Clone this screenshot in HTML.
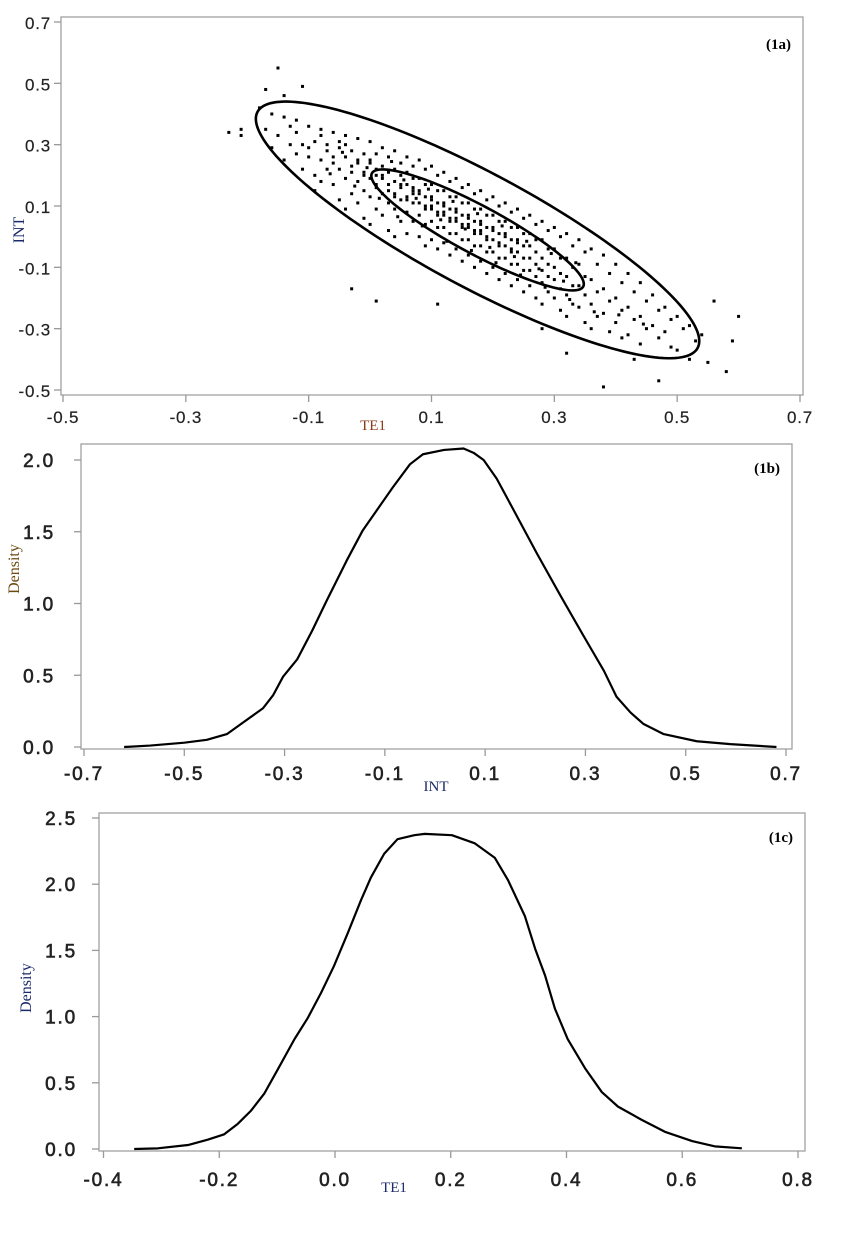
<!DOCTYPE html>
<html><head><meta charset="utf-8"><style>
html,body{margin:0;padding:0;background:#fff;}
svg{display:block;}
.tk{font-family:"Liberation Sans",sans-serif;fill:#222;}
.lab{font-family:"Liberation Serif",serif;}
</style></head>
<body>
<svg id="fig" width="848" height="1239" viewBox="0 0 848 1239" xmlns="http://www.w3.org/2000/svg">
<rect width="848" height="1239" fill="#fff"/>
<g id="pa"></g>
<g id="pb"></g>
<g id="pc"></g>
</svg>
<script>
// ---------- Panel 1a data ----------
const aXTicks = [-0.5, -0.3, -0.1, 0.1, 0.3, 0.5, 0.7];
const aYTicks = [0.7, 0.5, 0.3, 0.1, -0.1, -0.3, -0.5];
const ellipseCenter = [0.175, 0.022];
const ellipseMajor = [0.3583, -0.385];
const ellipseMinor = [0.044, 0.164];
const ellipseScales = [[1, 1], [0.48, 0.42]];
const scatterPoints = [
[-0.18,0.42],[-0.17,0.35],
[-0.16,0.40],[-0.15,0.33],[-0.16,0.29],
[-0.14,0.39],[-0.13,0.30],[-0.14,0.25],[-0.13,0.36],
[-0.12,0.38],[-0.11,0.30],[-0.12,0.27],[-0.11,0.22],[-0.12,0.34],
[-0.10,0.36],[-0.09,0.31],[-0.10,0.26],[-0.09,0.20],[-0.10,0.29],[-0.09,0.15],
[-0.08,0.35],[-0.07,0.30],[-0.08,0.25],[-0.07,0.22],[-0.08,0.18],[-0.07,0.28],[-0.08,0.33],
[-0.06,0.34],[-0.05,0.29],[-0.06,0.26],[-0.05,0.22],[-0.06,0.17],[-0.05,0.12],[-0.06,0.24],[-0.05,0.31],
[-0.04,0.33],[-0.03,0.28],[-0.04,0.26],[-0.03,0.23],[-0.04,0.19],[-0.03,0.14],[-0.04,0.09],[-0.03,0.21],[-0.04,0.30],
[-0.02,0.32],[-0.01,0.27],[-0.02,0.24],[-0.01,0.21],[-0.02,0.18],[-0.01,0.15],[-0.02,0.11],[-0.01,0.06],[-0.02,0.25],[-0.01,0.20],
[0.00,0.31],[0.01,0.27],[0.00,0.24],[0.01,0.22],[0.00,0.19],[0.01,0.16],[0.00,0.13],[0.01,0.09],[0.00,0.04],[0.01,0.20],[0.00,0.25],[0.01,0.17],
[0.02,0.29],[0.03,0.26],[0.02,0.23],[0.03,0.21],[0.02,0.19],[0.03,0.17],[0.02,0.14],[0.03,0.11],[0.02,0.07],[0.03,0.02],[0.02,0.20],[0.03,0.15],
[0.04,0.28],[0.05,0.24],[0.04,0.22],[0.05,0.20],[0.04,0.18],[0.05,0.16],[0.04,0.14],[0.05,0.12],[0.04,0.09],[0.05,0.05],[0.04,0.00],[0.05,0.17],[0.04,0.13],
[0.06,0.26],[0.07,0.23],[0.06,0.21],[0.07,0.19],[0.06,0.17],[0.07,0.15],[0.06,0.13],[0.07,0.11],[0.06,0.08],[0.07,0.05],[0.06,0.01],[0.07,0.16],[0.06,0.12],[0.07,0.14],
[0.08,0.25],[0.09,0.22],[0.08,0.19],[0.09,0.17],[0.08,0.15],[0.09,0.13],[0.08,0.11],[0.09,0.09],[0.08,0.07],[0.09,0.04],[0.08,0.00],[0.09,-0.03],[0.08,0.14],[0.09,0.10],
[0.10,0.23],[0.11,0.20],[0.10,0.17],[0.11,0.15],[0.10,0.13],[0.11,0.11],[0.10,0.09],[0.11,0.07],[0.10,0.05],[0.11,0.03],[0.10,-0.01],[0.11,-0.04],[0.10,0.12],[0.11,0.08],[0.10,0.10],
[0.12,0.21],[0.13,0.18],[0.12,0.15],[0.13,0.13],[0.12,0.11],[0.13,0.09],[0.12,0.07],[0.13,0.05],[0.12,0.03],[0.13,0.01],[0.12,-0.02],[0.13,-0.06],[0.12,0.10],[0.13,0.06],[0.12,0.08],
[0.14,0.19],[0.15,0.16],[0.14,0.13],[0.15,0.11],[0.14,0.09],[0.15,0.07],[0.14,0.05],[0.15,0.03],[0.14,0.01],[0.15,-0.01],[0.14,-0.04],[0.15,-0.08],[0.14,0.08],[0.15,0.04],[0.14,0.06],
[0.16,0.17],[0.17,0.14],[0.16,0.11],[0.17,0.09],[0.16,0.07],[0.17,0.05],[0.16,0.03],[0.17,0.01],[0.16,-0.01],[0.17,-0.03],[0.16,-0.06],[0.17,-0.10],[0.16,0.06],[0.17,0.02],[0.16,0.04],
[0.18,0.15],[0.19,0.12],[0.18,0.09],[0.19,0.07],[0.18,0.05],[0.19,0.03],[0.18,0.01],[0.19,-0.01],[0.18,-0.03],[0.19,-0.05],[0.18,-0.08],[0.19,-0.12],[0.18,0.04],[0.19,0.00],[0.18,0.02],
[0.20,0.13],[0.21,0.10],[0.20,0.07],[0.21,0.05],[0.20,0.03],[0.21,0.01],[0.20,-0.01],[0.21,-0.03],[0.20,-0.05],[0.21,-0.07],[0.20,-0.10],[0.21,-0.14],[0.20,0.02],[0.21,-0.02],
[0.22,0.11],[0.23,0.08],[0.22,0.05],[0.23,0.03],[0.22,0.01],[0.23,-0.01],[0.22,-0.03],[0.23,-0.05],[0.22,-0.07],[0.23,-0.09],[0.22,-0.12],[0.23,-0.16],[0.22,0.00],[0.23,-0.04],
[0.24,0.09],[0.25,0.06],[0.24,0.03],[0.25,0.01],[0.24,-0.01],[0.25,-0.03],[0.24,-0.05],[0.25,-0.07],[0.24,-0.09],[0.25,-0.11],[0.24,-0.14],[0.25,-0.18],[0.24,-0.02],
[0.26,0.07],[0.27,0.04],[0.26,0.01],[0.27,-0.01],[0.26,-0.03],[0.27,-0.05],[0.26,-0.07],[0.27,-0.09],[0.26,-0.11],[0.27,-0.13],[0.26,-0.16],[0.27,-0.20],
[0.28,0.05],[0.29,0.02],[0.28,-0.01],[0.29,-0.04],[0.28,-0.07],[0.29,-0.09],[0.28,-0.11],[0.29,-0.13],[0.28,-0.15],[0.29,-0.18],[0.28,-0.22],
[0.30,0.03],[0.31,0.00],[0.30,-0.04],[0.31,-0.07],[0.30,-0.10],[0.31,-0.12],[0.30,-0.14],[0.31,-0.17],[0.30,-0.20],[0.31,-0.24],
[0.32,0.01],[0.33,-0.03],[0.32,-0.07],[0.33,-0.10],[0.32,-0.13],[0.33,-0.16],[0.32,-0.19],[0.33,-0.22],[0.32,-0.26],
[0.34,-0.01],[0.35,-0.05],[0.34,-0.09],[0.35,-0.13],[0.34,-0.16],[0.35,-0.19],[0.34,-0.23],[0.35,-0.28],
[0.36,-0.04],[0.37,-0.09],[0.36,-0.14],[0.37,-0.18],[0.36,-0.22],[0.37,-0.26],[0.36,-0.30],
[0.38,-0.06],[0.39,-0.12],[0.38,-0.17],[0.39,-0.21],[0.38,-0.25],[0.39,-0.31],
[0.40,-0.09],[0.41,-0.15],[0.40,-0.20],[0.41,-0.24],[0.40,-0.28],[0.41,-0.33],
[0.42,-0.12],[0.43,-0.18],[0.42,-0.23],[0.43,-0.27],[0.42,-0.32],
[0.44,-0.15],[0.45,-0.21],[0.44,-0.26],[0.45,-0.30],[0.44,-0.35],
[0.46,-0.19],[0.47,-0.24],[0.46,-0.29],[0.47,-0.33],
[0.48,-0.23],[0.49,-0.27],[0.48,-0.31],[0.49,-0.36],
[0.50,-0.26],[0.51,-0.30],[0.50,-0.37],
[0.52,-0.29],[0.53,-0.34],[0.54,-0.32],
[-0.23,0.34],[-0.21,0.33],[-0.21,0.35],[-0.15,0.55],[-0.17,0.48],[-0.11,0.49],[-0.14,0.46],
[0.38,-0.49],[0.47,-0.47],[0.58,-0.44],[0.55,-0.41],[0.56,-0.21],[0.60,-0.26],[0.59,-0.34],
[0.32,-0.38],[-0.03,-0.17],[0.01,-0.21],[0.11,-0.22],[0.28,-0.30],[0.43,-0.40],[0.52,-0.40],
[0.035,0.245],[0.055,0.185],[0.075,0.125],[0.095,0.155],[0.115,0.055],[0.135,0.115],[0.155,0.025],[0.175,0.075],
[0.195,-0.035],[0.215,0.035],[0.235,-0.065],[0.255,-0.015],[0.275,-0.105],[0.295,-0.055],[0.315,-0.145],[0.335,-0.085],
[-0.065,0.205],[-0.045,0.275],[-0.025,0.165],[-0.005,0.225],[0.015,0.125],[0.045,0.065],[0.085,0.035],[0.125,-0.015],
[0.165,-0.045],[0.205,-0.085],[0.245,-0.125],[0.285,-0.165],[0.325,-0.205],[0.365,-0.245],[0.405,-0.255],[0.445,-0.285]
];

// ---------- Panel 1b data ----------
const bXTicks = [-0.7, -0.5, -0.3, -0.1, 0.1, 0.3, 0.5, 0.7];
const bYTicks = [0.0, 0.5, 1.0, 1.5, 2.0];
const bInt = [-0.62,-0.568,-0.50,-0.455,-0.415,-0.389,-0.343,-0.323,-0.303,-0.275,-0.245,-0.216,-0.176,-0.144,-0.084,-0.05,-0.024,0.018,0.057,0.077,0.097,0.123,0.157,0.203,0.251,0.297,0.337,0.362,0.390,0.416,0.456,0.522,0.589,0.681];
const bDensity = [0.00,0.01,0.03,0.05,0.09,0.155,0.27,0.36,0.49,0.61,0.81,1.02,1.30,1.51,1.81,1.97,2.04,2.07,2.08,2.05,2.00,1.87,1.65,1.35,1.05,0.77,0.53,0.35,0.24,0.16,0.09,0.04,0.02,0.00];

// ---------- Panel 1c data ----------
const cXTicks = [-0.4, -0.2, 0.0, 0.2, 0.4, 0.6, 0.8];
const cYTicks = [0.0, 0.5, 1.0, 1.5, 2.0, 2.5];
const cTe1 = [-0.347,-0.306,-0.254,-0.22,-0.192,-0.168,-0.145,-0.122,-0.099,-0.07,-0.047,-0.024,-0.002,0.022,0.045,0.062,0.085,0.108,0.137,0.155,0.202,0.241,0.276,0.299,0.328,0.346,0.363,0.380,0.402,0.432,0.461,0.489,0.530,0.570,0.617,0.656,0.703];
const cDensity = [0.00,0.005,0.03,0.07,0.11,0.19,0.29,0.42,0.60,0.83,0.99,1.18,1.38,1.63,1.88,2.05,2.23,2.34,2.37,2.38,2.37,2.31,2.20,2.03,1.76,1.51,1.31,1.06,0.83,0.61,0.43,0.32,0.22,0.13,0.06,0.02,0.005];

const NS = "http://www.w3.org/2000/svg";
function mk(parent, tag, attrs, text) {
  const e = document.createElementNS(NS, tag);
  for (const k in attrs) e.setAttribute(k, attrs[k]);
  if (text !== undefined) e.textContent = text;
  parent.appendChild(e);
  return e;
}
function lin(d0, d1, r0, r1) { return v => r0 + (v - d0) * (r1 - r0) / (d1 - d0); }

function frame(g, box, name) {
  const r = mk(g, 'rect', {x: box[0], y: box[1], width: box[2]-box[0], height: box[3]-box[1], fill: 'none', stroke: '#a0a0a0', 'stroke-width': 1.3});
  
  
}
function axes(g, box, xs, ys, xt, yt, fmt, opts) {
  xt.forEach(v => {
    const x = xs(v);
    const t = mk(g, 'line', {x1: x, x2: x, y1: box[3], y2: box[3] + 7, stroke: '#999', 'stroke-width': 1.3});
    
    
    const l = mk(g, 'text', {x: x, y: opts.xLabY, 'text-anchor': 'middle', class: 'tk', 'font-size': opts.fs, 'letter-spacing': opts.ls, stroke: '#222', 'stroke-width': opts.sw}, fmt(v));
    
    
  });
  yt.forEach(v => {
    const y = ys(v);
    const t = mk(g, 'line', {x1: box[0] - 7, x2: box[0], y1: y, y2: y, stroke: '#999', 'stroke-width': 1.3});
    
    
    const l = mk(g, 'text', {x: opts.yLabX, y: y + 7, 'text-anchor': 'end', class: 'tk', 'font-size': opts.fs, 'letter-spacing': opts.ls, stroke: '#222', 'stroke-width': opts.sw}, fmt(v));
    
    
  });
}

// ===== Panel 1a =====
(function(){
  const g = document.getElementById('pa');
  const box = [61, 17, 803, 395];
  const xs = lin(-0.5, 0.7, 63, 800);
  const ys = lin(-0.5, 0.7, 390, 22);
  frame(g, box, 'plot-frame-1a');
  axes(g, box, xs, ys, aXTicks, aYTicks, v => v.toFixed(1), {xLabY: 423, yLabX: 51, fs: 17, ls: 0.8, sw: 0.2});
  scatterPoints.forEach(p => {
    const d = mk(g, 'rect', {x: xs(p[0]) - 1.5, y: ys(p[1]) - 1.5, width: 3, height: 3, fill: '#000'});
    
    
  });
  ellipseScales.forEach((s, i) => {
    let dstr = '';
    for (let k = 0; k <= 180; k++) {
      const t = k / 180 * 2 * Math.PI;
      const vx = ellipseCenter[0] + s[0]*Math.cos(t)*ellipseMajor[0] + s[1]*Math.sin(t)*ellipseMinor[0];
      const vy = ellipseCenter[1] + s[0]*Math.cos(t)*ellipseMajor[1] + s[1]*Math.sin(t)*ellipseMinor[1];
      dstr += (k ? 'L' : 'M') + xs(vx).toFixed(2) + ',' + ys(vy).toFixed(2);
    }
    const e = mk(g, 'path', {d: dstr + 'Z', fill: 'none', stroke: '#000', 'stroke-width': 2.6});
    
    
  });
  const tag = mk(g, 'text', {x: 791, y: 49, 'text-anchor': 'end', class: 'lab', 'font-size': 15, 'font-weight': 'bold', fill: '#000'}, '(1a)');
  
  
  const yl = mk(g, 'text', {x: 0, y: 0, transform: 'translate(24,230) rotate(-90)', 'text-anchor': 'middle', class: 'lab', 'font-size': 16, fill: '#1a2a6a'}, 'INT');
  
  
  const xl = mk(g, 'text', {x: 373, y: 430, 'text-anchor': 'middle', class: 'lab', 'font-size': 15, fill: '#8b3a1a'}, 'TE1');
  
  
})();

function densityPanel(gid, box, xd, xr, yd, yr, xt, yt, xv, yv, fmt, opts, label) {
  const g = document.getElementById(gid);
  const xs = lin(xd[0], xd[1], xr[0], xr[1]);
  const ys = lin(yd[0], yd[1], yr[0], yr[1]);
  frame(g, box, 'plot-frame-' + label);
  axes(g, box, xs, ys, xt, yt, fmt, opts);
  let d = '';
  xv.forEach((v, i) => { d += (i ? 'L' : 'M') + xs(v).toFixed(2) + ',' + ys(yv[i]).toFixed(2); });
  const p = mk(g, 'path', {d: d, fill: 'none', stroke: '#000', 'stroke-width': 2.2, 'stroke-linejoin': 'round'});
  
  
  return g;
}

// ===== Panel 1b =====
(function(){
  const g = densityPanel('pb', [81, 444, 792, 749], [-0.7, 0.7], [84, 786], [0, 2], [747, 460],
    bXTicks, bYTicks, bInt, bDensity, v => v.toFixed(1), {xLabY: 780, yLabX: 55, fs: 19, ls: 1.8, sw: 0.6}, '1b');
  const tag = mk(g, 'text', {x: 780, y: 473, 'text-anchor': 'end', class: 'lab', 'font-size': 15, 'font-weight': 'bold', fill: '#000'}, '(1b)');
  
  
  const yl = mk(g, 'text', {x: 0, y: 0, transform: 'translate(19,569) rotate(-90)', 'text-anchor': 'middle', class: 'lab', 'font-size': 16, fill: '#6b4a10'}, 'Density');
  
  
  const xl = mk(g, 'text', {x: 436, y: 791, 'text-anchor': 'middle', class: 'lab', 'font-size': 15, fill: '#1a2a6a'}, 'INT');
  
  
})();

// ===== Panel 1c =====
(function(){
  const g = densityPanel('pc', [99, 813, 805, 1151], [-0.4, 0.8], [103.5, 798], [0, 2.5], [1149, 818],
    cXTicks, cYTicks, cTe1, cDensity, v => v.toFixed(1), {xLabY: 1186, yLabX: 77, fs: 19, ls: 1.8, sw: 0.6}, '1c');
  const tag = mk(g, 'text', {x: 793, y: 842, 'text-anchor': 'end', class: 'lab', 'font-size': 15, 'font-weight': 'bold', fill: '#000'}, '(1c)');
  
  
  const yl = mk(g, 'text', {x: 0, y: 0, transform: 'translate(31,988) rotate(-90)', 'text-anchor': 'middle', class: 'lab', 'font-size': 16, fill: '#1a2a6a'}, 'Density');
  
  
  const xl = mk(g, 'text', {x: 394, y: 1192, 'text-anchor': 'middle', class: 'lab', 'font-size': 15, fill: '#1a2a6a'}, 'TE1');
  
  
})();
</script>
</body></html>
